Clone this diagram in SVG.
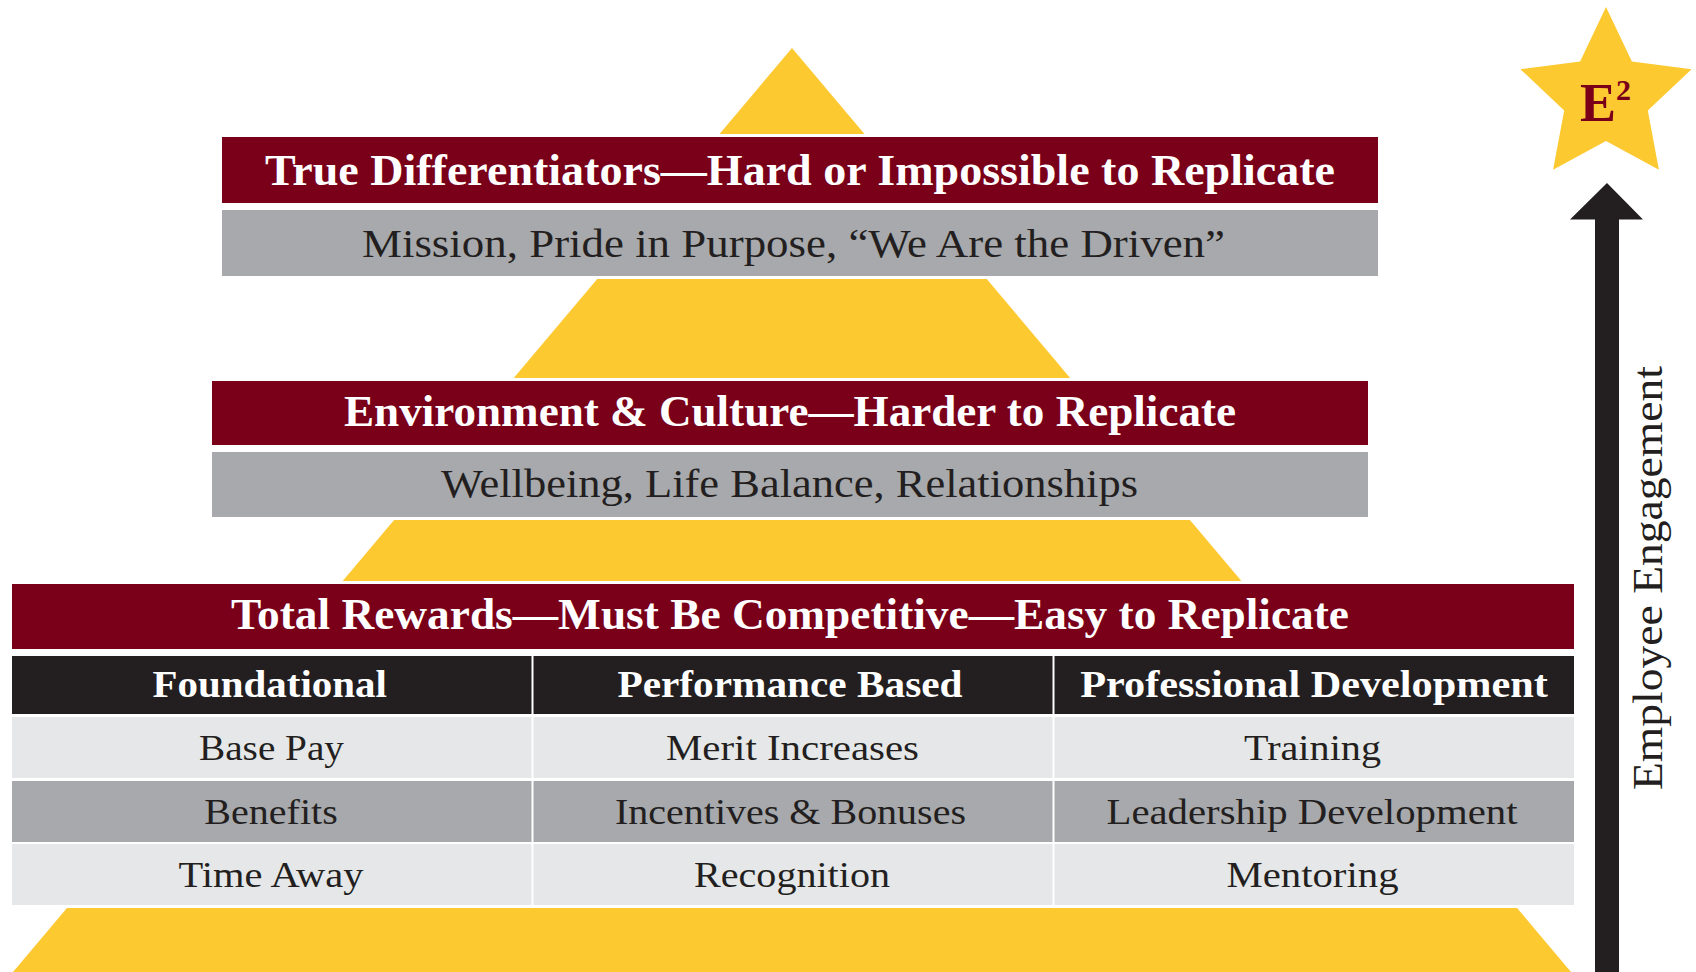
<svg xmlns="http://www.w3.org/2000/svg" width="1696" height="972" viewBox="0 0 1696 972">
  <style>
    .hdr { font-family: "Liberation Serif", "DejaVu Serif", serif; font-weight: bold; fill: #ffffff; text-anchor: middle; }
    .sub { font-family: "Liberation Serif", "DejaVu Serif", serif; fill: #231f20; text-anchor: middle; }
    .maroon { fill: #7a0019; }
    .gray { fill: #a7a9ac; }
    .light { fill: #e6e7e8; }
    .black { fill: #231f20; }
    .gold { fill: #fdc931; }
    .gap { fill: #ffffff; }
  </style>
  <rect x="0" y="0" width="1696" height="972" fill="#ffffff"/>

  <g id="pyramid">
    <polygon class="gold" points="792,48 13,972 1571,972"/>
    <rect class="gap" x="0" y="134" width="1585" height="145"/>
    <rect class="gap" x="0" y="378" width="1585" height="142"/>
    <rect class="gap" x="0" y="581" width="1585" height="327"/>
  </g>

  <g id="tier-true-differentiators">
    <rect class="maroon" x="222" y="137" width="1156" height="66"/>
    <text class="hdr" x="800" y="185" font-size="44" textLength="1070" lengthAdjust="spacingAndGlyphs">True Differentiators—Hard or Impossible to Replicate</text>
    <rect class="gray" x="222" y="210" width="1156" height="66"/>
    <text class="sub" x="793.5" y="257" font-size="40" textLength="863" lengthAdjust="spacingAndGlyphs">Mission, Pride in Purpose, “We Are the Driven”</text>
  </g>

  <g id="tier-environment-culture">
    <rect class="maroon" x="212" y="381" width="1156" height="64"/>
    <text class="hdr" x="790" y="426" font-size="44" textLength="892" lengthAdjust="spacingAndGlyphs">Environment &amp; Culture—Harder to Replicate</text>
    <rect class="gray" x="212" y="452" width="1156" height="65"/>
    <text class="sub" x="789.5" y="497" font-size="40" textLength="697" lengthAdjust="spacingAndGlyphs">Wellbeing, Life Balance, Relationships</text>
  </g>

  <g id="tier-total-rewards">
    <rect class="maroon" x="12" y="584" width="1562" height="65"/>
    <text class="hdr" x="790" y="629" font-size="44" textLength="1118" lengthAdjust="spacingAndGlyphs">Total Rewards—Must Be Competitive—Easy to Replicate</text>
  </g>

  <g id="col-foundational">
    <rect class="black" x="12" y="656" width="519.5" height="58"/>
    <text class="hdr" x="269.75" y="697" font-size="38" textLength="234.5" lengthAdjust="spacingAndGlyphs">Foundational</text>
    <rect class="light" x="12" y="717" width="519.5" height="61"/>
    <text class="sub" x="271.5" y="760" font-size="36" textLength="145" lengthAdjust="spacingAndGlyphs">Base Pay</text>
    <rect class="gray" x="12" y="781" width="519.5" height="61"/>
    <text class="sub" x="271" y="824" font-size="36" textLength="133.5" lengthAdjust="spacingAndGlyphs">Benefits</text>
    <rect class="light" x="12" y="844" width="519.5" height="61"/>
    <text class="sub" x="271" y="887" font-size="36" textLength="185" lengthAdjust="spacingAndGlyphs">Time Away</text>
  </g>

  <g id="col-performance-based">
    <rect class="black" x="533.5" y="656" width="519" height="58"/>
    <text class="hdr" x="790" y="697" font-size="38" textLength="345" lengthAdjust="spacingAndGlyphs">Performance Based</text>
    <rect class="light" x="533.5" y="717" width="519" height="61"/>
    <text class="sub" x="792.5" y="760" font-size="36" textLength="253" lengthAdjust="spacingAndGlyphs">Merit Increases</text>
    <rect class="gray" x="533.5" y="781" width="519" height="61"/>
    <text class="sub" x="790.5" y="824" font-size="36" textLength="351" lengthAdjust="spacingAndGlyphs">Incentives &amp; Bonuses</text>
    <rect class="light" x="533.5" y="844" width="519" height="61"/>
    <text class="sub" x="792" y="887" font-size="36" textLength="196" lengthAdjust="spacingAndGlyphs">Recognition</text>
  </g>

  <g id="col-professional-development">
    <rect class="black" x="1054.5" y="656" width="519.5" height="58"/>
    <text class="hdr" x="1314" y="697" font-size="38" textLength="467.5" lengthAdjust="spacingAndGlyphs">Professional Development</text>
    <rect class="light" x="1054.5" y="717" width="519.5" height="61"/>
    <text class="sub" x="1312.5" y="760" font-size="36" textLength="137" lengthAdjust="spacingAndGlyphs">Training</text>
    <rect class="gray" x="1054.5" y="781" width="519.5" height="61"/>
    <text class="sub" x="1312" y="824" font-size="36" textLength="411" lengthAdjust="spacingAndGlyphs">Leadership Development</text>
    <rect class="light" x="1054.5" y="844" width="519.5" height="61"/>
    <text class="sub" x="1312.5" y="887" font-size="36" textLength="172" lengthAdjust="spacingAndGlyphs">Mentoring</text>
  </g>

  <g id="star-e2">
    <polygon class="gold" points="1606,7 1631.9,61.4 1691.6,69.2 1647.8,110.6 1658.9,169.8 1606,141 1553.1,169.8 1564.2,110.6 1520.4,69.2 1580.1,61.4"/>
    <text x="1580" y="121" font-family="Liberation Serif, DejaVu Serif, serif" font-weight="bold" font-size="54" fill="#7a0019">E<tspan dy="-21" font-size="30">2</tspan></text>
  </g>

  <g id="connectors">
    <polygon class="black" points="1607,183 1643,219.5 1619,219.5 1619,972 1595,972 1595,219.5 1570,219.5"/>
  </g>

  <g id="label-employee-engagement">
    <text class="sub" transform="translate(1662,578) rotate(-90)" x="0" y="0" font-size="42" textLength="424" lengthAdjust="spacingAndGlyphs">Employee Engagement</text>
  </g>
</svg>
